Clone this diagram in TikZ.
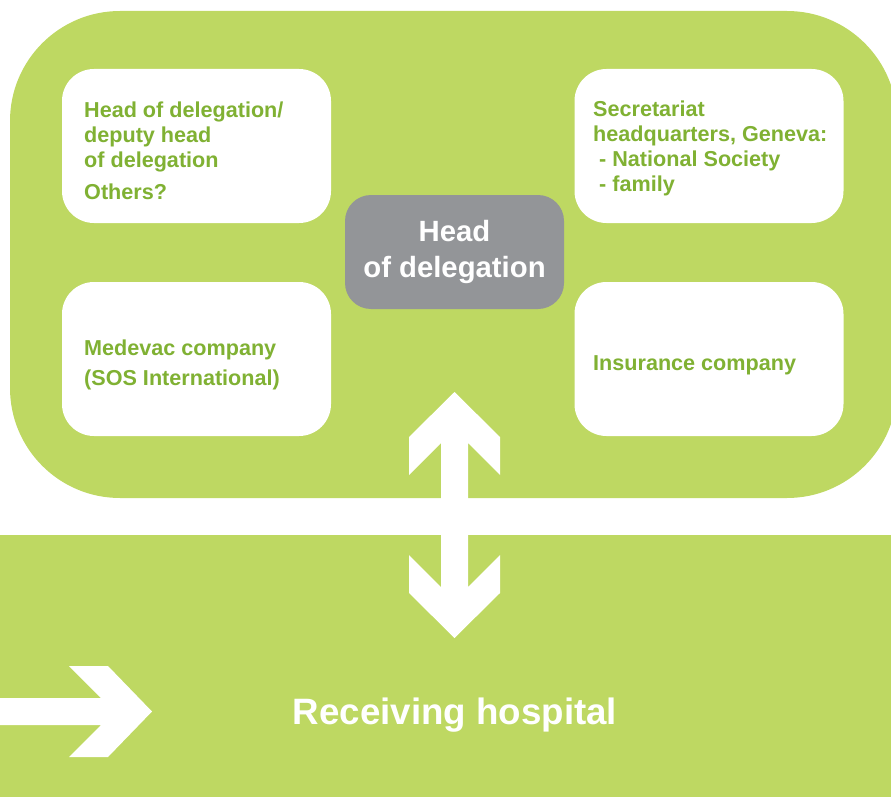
\documentclass[tikz,border=0pt]{standalone}
\usepackage{fontspec}
\setmainfont{Liberation Sans}
\definecolor{bggreen}{HTML}{BED862}
\definecolor{txtgreen}{HTML}{80B133}
\definecolor{hodgray}{HTML}{939598}
\begin{document}
\begin{tikzpicture}[x=1pt,y=-1pt,
  wbox/.style={fill=white, rounded corners=32pt, minimum width=269pt, minimum height=154pt, inner sep=0pt},
  wtext/.style={anchor=base west, inner sep=0pt, text=txtgreen, font=\bfseries\fontsize{21.6}{25}\selectfont, align=left},
  graybox/.style={fill=hodgray, rounded corners=26pt, minimum width=219pt, minimum height=114pt, inner sep=0pt,
    text=white, font=\bfseries\fontsize{29.3}{36}\selectfont, align=center},
  htext/.style={anchor=base, inner sep=0pt, text=white, font=\bfseries\fontsize{36.7}{40}\selectfont}]
\useasboundingbox (0,0) rectangle (891,797);
\clip (0,0) rectangle (891,797);
% container and band
\fill[bggreen, rounded corners=110pt] (10,11) rectangle (897,498);
\fill[bggreen] (0,535) rectangle (891,797);
% white boxes
\node[wbox] (tl) at (196.5,146) {};
\node[wbox] (tr) at (709,146) {};
\node[wbox] (bl) at (196.5,359) {};
\node[wbox] (br) at (709,359) {};
% text blocks (base anchor = baseline of the last line)
\node[wtext] (tltext) at (84,199) {Head of delegation/\\deputy head\\of delegation\\[7pt]Others?};
\node[wtext] (trtext) at (593,191.5) {Secretariat\\headquarters, Geneva:\\\hspace{6pt}- National Society\\\hspace{6pt}- family};
\node[wtext] (bltext) at (84,385.5) {Medevac company\\[5pt](SOS International)};
\node[wtext] (brtext) at (593,370) {Insurance company};
% head of delegation
\node[graybox] (hod) at (454.5,252) {Head\\of delegation};
% double vertical arrow
\fill[white] (441,443) -- (409,475) -- (409,437) -- (454.5,392) -- (500,437) -- (500,475) -- (468,443)
  -- (468,587) -- (500,555) -- (500,593) -- (454.5,638) -- (409,593) -- (409,555) -- (441,587) -- cycle;
% left arrow
\fill[white] (0,698) -- (101,698) -- (69,666) -- (108,666) -- (152,711.5) -- (108,757) -- (69,757) -- (101,725) -- (0,725) -- cycle;
\node[htext] (hosp) at (455,724) {Receiving hospital};
\end{tikzpicture}
\end{document}
